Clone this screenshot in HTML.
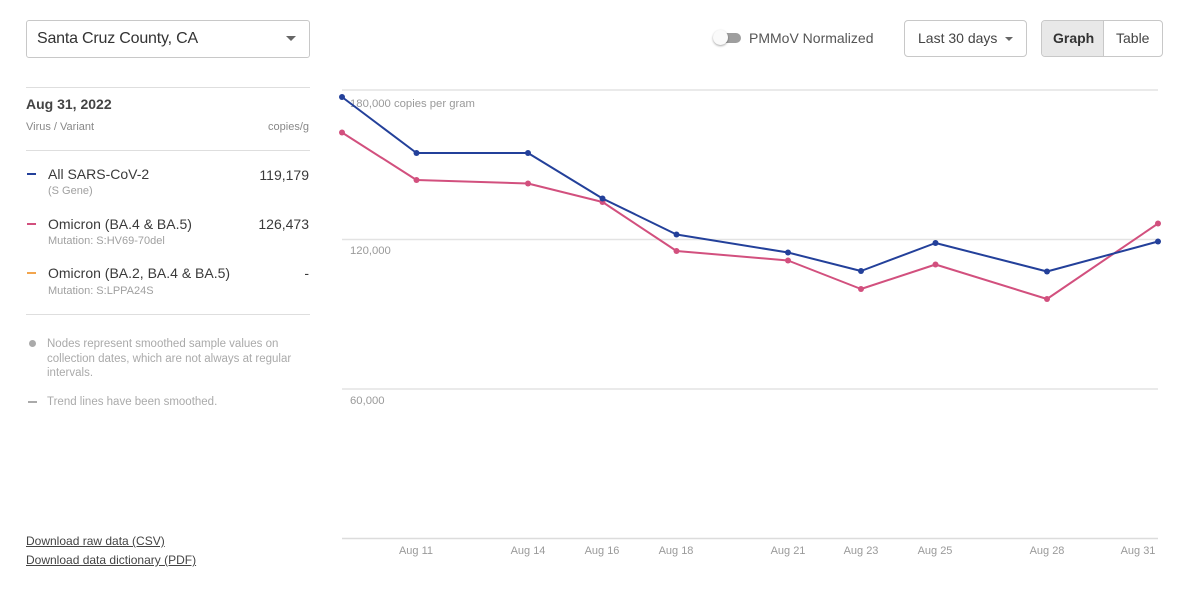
<!DOCTYPE html>
<html><head><meta charset="utf-8">
<style>
*{margin:0;padding:0;box-sizing:border-box}
body{width:1200px;height:600px;background:#fff;font-family:"Liberation Sans",Arial,sans-serif;position:relative;overflow:hidden;color:#333}
.a{position:absolute;white-space:nowrap}
.sel{left:26px;top:20px;width:284px;height:38px;border:1px solid #c8c8c8;border-radius:3px}
.caret{width:0;height:0;border-left:5px solid transparent;border-right:5px solid transparent;border-top:5px solid #666}
.hr{height:1px;background:#dedede;left:26px;width:284px}
.lbl{font-size:14px;color:#3a3a3a}
.sub{font-size:11px;color:#a0a0a0}
.val{font-size:14px;color:#3a3a3a;right:891px;text-align:right}
.dash{width:9px;height:2px}
.note{font-size:11.5px;color:#aaa;line-height:14.5px}
.dl{font-size:12px;color:#444;text-decoration:underline}
</style></head><body>
<div class="a sel"></div>
<div class="a" style="left:37px;top:30px;font-size:16px;letter-spacing:-0.2px;color:#333">Santa Cruz County, CA</div>
<div class="a caret" style="left:286px;top:36px"></div>
<div class="a hr" style="top:87px"></div>
<div class="a" style="left:26px;top:96px;font-size:14px;font-weight:bold;color:#444">Aug 31, 2022</div>
<div class="a" style="left:26px;top:121px;font-size:11px;color:#888">Virus / Variant</div>
<div class="a" style="right:891px;top:121px;font-size:11px;color:#888">copies/g</div>
<div class="a hr" style="top:150px"></div>

<div class="a dash" style="left:27px;top:173px;background:#23409a"></div>
<div class="a lbl" style="left:48px;top:166px">All SARS-CoV-2</div>
<div class="a sub" style="left:48px;top:185px">(S Gene)</div>
<div class="a val" style="top:167px">119,179</div>

<div class="a dash" style="left:27px;top:223px;background:#d2507e"></div>
<div class="a lbl" style="left:48px;top:216px">Omicron (BA.4 &amp; BA.5)</div>
<div class="a sub" style="left:48px;top:235px">Mutation: S:HV69-70del</div>
<div class="a val" style="top:216px">126,473</div>

<div class="a dash" style="left:27px;top:272px;background:#f2a54e"></div>
<div class="a lbl" style="left:48px;top:265px">Omicron (BA.2, BA.4 &amp; BA.5)</div>
<div class="a sub" style="left:48px;top:285px">Mutation: S:LPPA24S</div>
<div class="a val" style="top:265px">-</div>

<div class="a hr" style="top:314px"></div>
<div class="a" style="left:29px;top:340px;width:7px;height:7px;border-radius:50%;background:#aaa"></div>
<div class="a note" style="left:47px;top:337px;white-space:normal;width:262px">Nodes represent smoothed sample values on collection dates, which are not always at regular intervals.</div>
<div class="a" style="left:28px;top:401px;width:9px;height:2px;background:#aaa"></div>
<div class="a note" style="left:47px;top:395px">Trend lines have been smoothed.</div>

<div class="a dl" style="left:26px;top:534px">Download raw data (CSV)</div>
<div class="a dl" style="left:26px;top:553px">Download data dictionary (PDF)</div>

<!-- top right controls -->
<div class="a" style="left:717px;top:33px;width:24px;height:10px;border-radius:5px;background:#9e9e9e"></div>
<div class="a" style="left:713px;top:30px;width:15px;height:15px;border-radius:50%;background:#fafafa;box-shadow:0 1px 2px rgba(0,0,0,.35)"></div>
<div class="a" style="left:749px;top:30px;font-size:14px;color:#555">PMMoV Normalized</div>
<div class="a" style="left:904px;top:20px;width:123px;height:37px;border:1px solid #c8c8c8;border-radius:4px"></div>
<div class="a" style="left:918px;top:30px;font-size:14px;color:#444">Last 30 days</div>
<div class="a caret" style="left:1005px;top:37px;border-left-width:4px;border-right-width:4px;border-top-width:4px"></div>
<div class="a" style="left:1041px;top:20px;width:122px;height:37px;border:1px solid #c8c8c8;border-radius:4px;overflow:hidden">
 <div style="position:absolute;left:0;top:0;width:62px;height:35px;background:#e8e8e8;border-right:1px solid #c8c8c8"></div>
</div>
<div class="a" style="left:1053px;top:30px;font-size:14px;font-weight:bold;color:#333">Graph</div>
<div class="a" style="left:1116px;top:30px;font-size:14px;color:#444">Table</div>

<svg class="a" style="left:0;top:0" width="1200" height="600" xmlns="http://www.w3.org/2000/svg">
 <g stroke="#e3e3e3" stroke-width="1.5">
  <line x1="342" y1="90" x2="1158" y2="90"/>
  <line x1="342" y1="239.5" x2="1158" y2="239.5"/>
  <line x1="342" y1="389" x2="1158" y2="389"/>
  <line x1="342" y1="538.5" x2="1158" y2="538.5" stroke="#dcdcdc"/>
 </g>
 <g font-family="Liberation Sans, Arial, sans-serif" font-size="11.3" fill="#9a9a9a">
  <text x="350" y="107">180,000 copies per gram</text>
  <text x="350" y="254">120,000</text>
  <text x="350" y="404">60,000</text>
  <g text-anchor="middle" font-size="11">
   <text x="416" y="554">Aug 11</text>
   <text x="528" y="554">Aug 14</text>
   <text x="602" y="554">Aug 16</text>
   <text x="676" y="554">Aug 18</text>
   <text x="788" y="554">Aug 21</text>
   <text x="861" y="554">Aug 23</text>
   <text x="935" y="554">Aug 25</text>
   <text x="1047" y="554">Aug 28</text>
   <text x="1138" y="554">Aug 31</text>
  </g>
 </g>
 <polyline fill="none" stroke="#d2507e" stroke-width="2" stroke-linejoin="round"
  points="342,132.5 416.5,180 528,183.5 602.5,202 676.5,251 788,260.5 861,289 935.5,264.5 1047,299 1158,223.5"/>
 <g fill="#d2507e">
  <circle cx="342" cy="132.5" r="3"/><circle cx="416.5" cy="180" r="3"/><circle cx="528" cy="183.5" r="3"/><circle cx="602.5" cy="202" r="3"/><circle cx="676.5" cy="251" r="3"/><circle cx="788" cy="260.5" r="3"/><circle cx="861" cy="289" r="3"/><circle cx="935.5" cy="264.5" r="3"/><circle cx="1047" cy="299" r="3"/><circle cx="1158" cy="223.5" r="3"/>
 </g>
 <polyline fill="none" stroke="#23409a" stroke-width="2" stroke-linejoin="round"
  points="342,97 416.5,153 528,153 602.5,198.5 676.5,234.5 788,252.5 861,271 935.5,243 1047,271.5 1158,241.5"/>
 <g fill="#23409a">
  <circle cx="342" cy="97" r="3"/><circle cx="416.5" cy="153" r="3"/><circle cx="528" cy="153" r="3"/><circle cx="602.5" cy="198.5" r="3"/><circle cx="676.5" cy="234.5" r="3"/><circle cx="788" cy="252.5" r="3"/><circle cx="861" cy="271" r="3"/><circle cx="935.5" cy="243" r="3"/><circle cx="1047" cy="271.5" r="3"/><circle cx="1158" cy="241.5" r="3"/>
 </g>
</svg>
</body></html>
